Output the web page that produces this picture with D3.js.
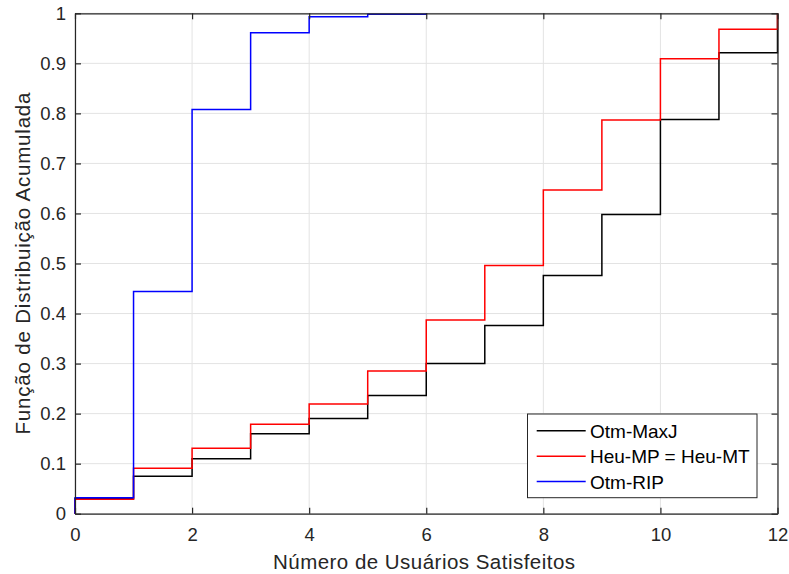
<!DOCTYPE html>
<html>
<head>
<meta charset="utf-8">
<script src="https://cdn.jsdelivr.net/npm/d3@7"></script>
<style>
  html, body { margin: 0; padding: 0; background: #fff; }
  svg { display: block; font-family: "Liberation Sans", Arial, Helvetica, sans-serif; }
</style>
</head>
<body>
<svg id="chart" width="789" height="574"></svg>
<script>
// Empirical CDF steps of the number of satisfied users
const stepsLong = [0, 0, 1, 2, 3, 4, 5, 6, 7, 8, 9, 10, 11, 12];
const stepsShort = [0, 0, 1, 2, 3, 4, 5, 6];

const otmMaxJ = [0, 0.030, 0.075, 0.110, 0.160, 0.190, 0.236, 0.300, 0.376, 0.476, 0.598, 0.788, 0.921, 1.0];
const heuMP = [0, 0.029, 0.091, 0.131, 0.179, 0.219, 0.285, 0.387, 0.496, 0.647, 0.787, 0.909, 0.968, 1.0];
const otmRIP = [0, 0.032, 0.444, 0.808, 0.961, 0.993, 0.998, 1.0];

const seriesNames = ["Otm-MaxJ", "Heu-MP = Heu-MT", "Otm-RIP"];
const seriesColors = ["#000000", "#ff0000", "#0000ff"];

const xTicks = [0, 2, 4, 6, 8, 10, 12];
const yTicks = [0, 0.1, 0.2, 0.3, 0.4, 0.5, 0.6, 0.7, 0.8, 0.9, 1];

const xLabel = "Número de Usuários Satisfeitos";
const yLabel = "Função de Distribuição Acumulada";

const svg = d3.select("#chart");
const plotL = 75, plotR = 777.5, plotT = 13.3, plotB = 513.7;
const axisColor = "#262626";

const x = d3.scaleLinear().domain([0, 12]).range([plotL, plotR]);
const y = d3.scaleLinear().domain([0, 1]).range([plotB, plotT]);

// grid
const grid = svg.append("g");
grid.selectAll("line.gx").data(xTicks).join("line")
  .attr("x1", d => x(d)).attr("x2", d => x(d))
  .attr("y1", plotT).attr("y2", plotB)
  .attr("stroke", "#e3e3e3").attr("stroke-width", 1);
grid.selectAll("line.gy").data(yTicks).join("line")
  .attr("y1", d => y(d)).attr("y2", d => y(d))
  .attr("x1", plotL).attr("x2", plotR)
  .attr("stroke", "#e3e3e3").attr("stroke-width", 1);

// curves
const line = d3.line().curve(d3.curveStepAfter);
const series = [
  { xs: stepsLong, ys: otmMaxJ },
  { xs: stepsLong, ys: heuMP },
  { xs: stepsShort, ys: otmRIP }
];
series.forEach((s, i) => {
  const pts = s.xs.map((v, k) => [x(v), y(s.ys[k])]);
  svg.append("path")
    .attr("d", line(pts))
    .attr("fill", "none")
    .attr("stroke", seriesColors[i])
    .attr("stroke-width", 1.5);
});

// axes (box with inward ticks on all sides)
const tickLen = 6;
const ax = svg.append("g");
ax.append("g").attr("transform", `translate(0,${plotB})`)
  .call(d3.axisBottom(x).tickValues(xTicks).tickSizeInner(-tickLen).tickSizeOuter(0).tickPadding(14).tickFormat(d3.format("d")));
ax.append("g").attr("transform", `translate(0,${plotT})`)
  .call(d3.axisTop(x).tickValues(xTicks).tickSizeInner(-tickLen).tickSizeOuter(0).tickFormat(""));
ax.append("g").attr("transform", `translate(${plotL},0)`)
  .call(d3.axisLeft(y).tickValues(yTicks).tickSizeInner(-tickLen).tickSizeOuter(0).tickPadding(9).tickFormat(d => d === 0 || d === 1 ? String(d) : d.toFixed(1)));
ax.append("g").attr("transform", `translate(${plotR},0)`)
  .call(d3.axisRight(y).tickValues(yTicks).tickSizeInner(-tickLen).tickSizeOuter(0).tickFormat(""));
ax.selectAll(".domain").attr("stroke", axisColor).attr("stroke-width", 1.2);
ax.selectAll(".tick line").attr("stroke", axisColor).attr("stroke-width", 1.2);
ax.selectAll(".tick text").attr("fill", axisColor).style("font-size", "18.5px")
  .style("font-family", "'Liberation Sans', Arial, sans-serif");

// axis titles
svg.append("text")
  .attr("x", 424).attr("y", 568.5)
  .attr("text-anchor", "middle").attr("fill", axisColor)
  .attr("textLength", 302).attr("lengthAdjust", "spacing")
  .style("font-size", "20.5px").text(xLabel);
svg.append("text")
  .attr("transform", `translate(29.5,${(plotT + plotB) / 2}) rotate(-90)`)
  .attr("text-anchor", "middle").attr("fill", axisColor)
  .attr("textLength", 342).attr("lengthAdjust", "spacing")
  .style("font-size", "20.5px").text(yLabel);

// legend
const lg = svg.append("g");
lg.append("rect").attr("x", 527.5).attr("y", 414).attr("width", 229.5).attr("height", 83.7)
  .attr("fill", "#fff").attr("stroke", axisColor).attr("stroke-width", 1);
const rowY = [430.7, 456.2, 481.6];
seriesNames.forEach((name, i) => {
  lg.append("line").attr("x1", 536.7).attr("x2", 585.7)
    .attr("y1", rowY[i]).attr("y2", rowY[i])
    .attr("stroke", seriesColors[i]).attr("stroke-width", 1.5);
  lg.append("text").attr("x", 590).attr("y", rowY[i]).attr("dy", "0.37em")
    .attr("fill", "#000").style("font-size", "19px").text(name);
});
</script>
</body>
</html>
